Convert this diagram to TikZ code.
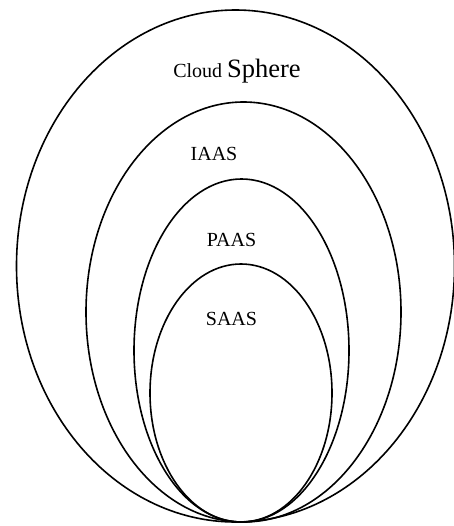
\documentclass[tikz,border=0pt]{standalone}
\usepackage{fontspec}
\setmainfont{Liberation Serif}
\tikzset{
  ring/.style={line width=1.6pt, draw=black},
  lbl/.style={anchor=base, inner sep=0pt, font=\fontsize{20}{24}\selectfont}
}
\begin{document}
\begin{tikzpicture}[x=1pt,y=-1pt]
\useasboundingbox (0,0) rectangle (453,526);
% ellipses
\draw[ring] (235.5,266) ellipse [x radius=219, y radius=256];
\draw[ring] (243.5,312) ellipse [x radius=157.5, y radius=210];
\draw[ring] (241.5,350.5) ellipse [x radius=107.5, y radius=171.5];
\draw[ring] (241,393) ellipse [x radius=91, y radius=129];
% labels
\node[lbl] (cloud) at (237,77.3) {Cloud {\fontsize{26.5}{30}\selectfont Sphere}};
\node[lbl] (iaas) at (214,160.7) {IAAS};
\node[lbl] (paas) at (231.5,246) {PAAS};
\node[lbl] (saas) at (231.5,325) {SAAS};
\end{tikzpicture}
\end{document}
